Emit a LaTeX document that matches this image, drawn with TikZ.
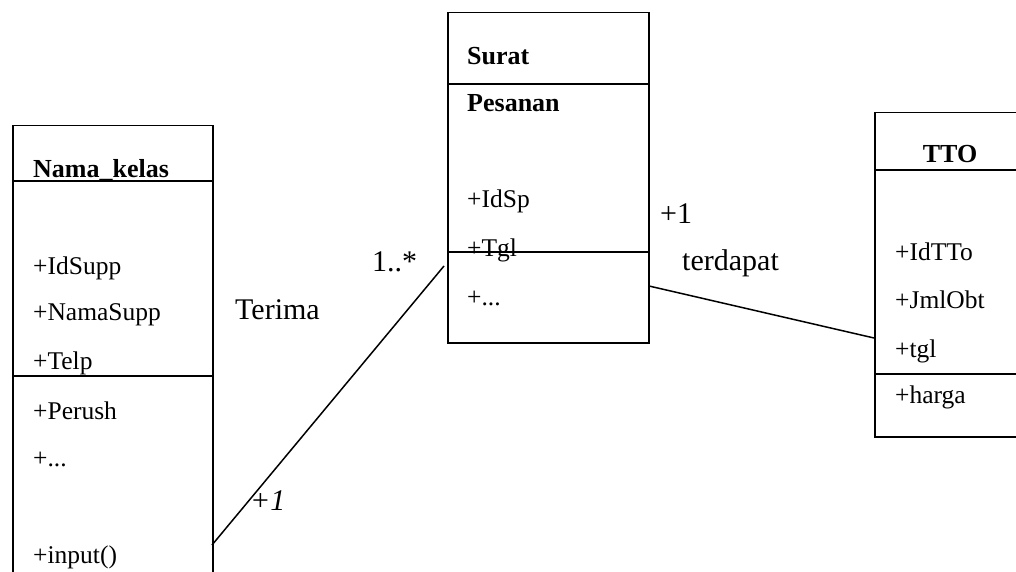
\documentclass[tikz,border=0pt]{standalone}
\usepackage{fontspec}
\setmainfont{Liberation Serif}
\tikzset{
  frame/.style={draw=black, line width=1.5pt, rectangle, inner sep=0pt, anchor=north west},
  sep/.style={draw=black, line width=1.5pt},
  attr/.style={anchor=base west, inner sep=0pt, font=\fontsize{25.5}{30}\selectfont},
  ttl/.style={anchor=base west, inner sep=0pt, font=\fontsize{26}{31}\selectfont\bfseries},
  lbl/.style={anchor=base west, inner sep=0pt, font=\fontsize{30}{36}\selectfont},
  assoc/.style={draw=black, line width=1.5pt},
}
\begin{document}
\begin{tikzpicture}[x=1pt,y=-1pt]
\useasboundingbox (0,0) rectangle (1016,572);
\clip (0,0) rectangle (1016,572);
% ---------- left class ----------
\node[frame, minimum width=200pt, minimum height=480pt] (kelas) at (12,125) {};
\coordinate (kh1) at (12,181); \coordinate (kh2) at (212,181);
\coordinate (kd1) at (12,376); \coordinate (kd2) at (212,376);
\draw[sep] (kh1) -- (kh2);
\draw[sep] (kd1) -- (kd2);
\node[ttl] (kt) at (33,177) {Nama\_kelas};
\node[attr] (k1) at (33,274) {+IdSupp};
\node[attr] (k2) at (33,320) {+NamaSupp};
\node[attr] (k3) at (33,369) {+Telp};
\node[attr] (k4) at (33,419) {+Perush};
\node[attr] (k5) at (33,466) {+...};
\node[attr] (k6) at (33,563) {+input()};
% ---------- middle class ----------
\node[frame, minimum width=201pt, minimum height=330pt] (sp) at (447,12) {};
\coordinate (sh1) at (447,84); \coordinate (sh2) at (648,84);
\coordinate (sd1) at (447,252); \coordinate (sd2) at (648,252);
\draw[sep] (sh1) -- (sh2);
\draw[sep] (sd1) -- (sd2);
\node[ttl] (st1) at (467,65) {Surat};
\node[ttl] (st2) at (467,112) {Pesanan};
\node[attr] (s1) at (467,207) {+IdSp};
\node[attr] (s2) at (467,256) {+Tgl};
\node[attr] (s3) at (467,305) {+...};
% ---------- right class ----------
\node[frame, minimum width=170pt, minimum height=324pt] (tto) at (874,112) {};
\coordinate (th1) at (874,170); \coordinate (th2) at (1044,170);
\coordinate (td1) at (874,374); \coordinate (td2) at (1044,374);
\draw[sep] (th1) -- (th2);
\draw[sep] (td1) -- (td2);
\node[ttl, anchor=base] (tt) at (950,163) {TTO};
\node[attr] (t1) at (895,260) {+IdTTo};
\node[attr] (t2) at (895,308) {+JmlObt};
\node[attr] (t3) at (895,357) {+tgl};
\node[attr] (t4) at (895,403) {+harga};
% ---------- associations ----------
\coordinate (a1) at (212,545);
\coordinate (a2) at (444,266);
\coordinate (b1) at (649,286);
\coordinate (b2) at (874,338);
\draw[assoc] (a1) -- (a2);
\draw[assoc] (b1) -- (b2);
\node[lbl] (terima) at (235,319) {Terima};
\node[lbl] (m1) at (372,271) {1..*};
\node[lbl] (m2) at (250,510) {\itshape +1};
\node[lbl] (m3) at (660,223) {+1};
\node[lbl] (terdapat) at (682,270) {terdapat};
\end{tikzpicture}
\end{document}
